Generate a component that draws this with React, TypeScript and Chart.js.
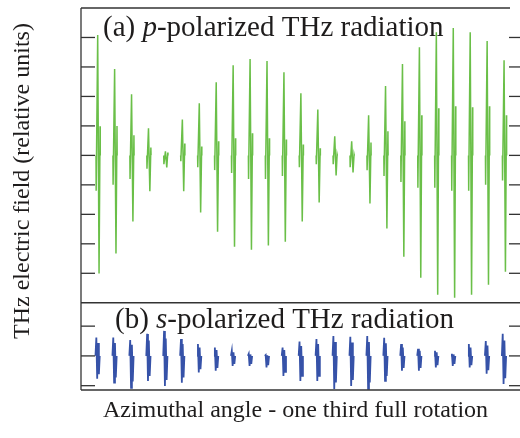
import { useEffect, useRef } from "react";
import { Chart, registerables } from "chart.js";

Chart.register(...registerables);

// ---- data ----
const PULSE_POS = [0, 1, 2, 3, 4, 5, 6, 7, 8, 9, 10, 11, 12, 13, 14, 15, 16, 17, 18, 19, 20, 21, 22, 23, 24];

// (a) p-polarized: main positive peak, main negative trough, pre-dip, post ring
const P_PEAK = [4.08, 2.93, 2.07, 0.92, 0.14, 1.22, 1.77, 2.48, 3.06, 3.27, 3.2, 2.82, 2.11, 1.56, 0.65, 0.48, 1.36, 2.35, 3.1, 3.67, 4.18, 4.32, 4.18, 3.88, 3.23];
const P_TROUGH = [-4.01, -3.33, -2.24, -1.22, -0.41, -1.22, -1.94, -2.59, -3.1, -3.2, -3.06, -2.93, -2.24, -1.6, -0.68, -0.58, -1.63, -2.48, -3.44, -4.15, -4.73, -4.83, -4.73, -4.39, -3.95];
const P_PRE = [-1.2, -1.0, -0.8, -0.45, -0.3, -0.2, -0.4, -0.5, -0.6, -0.8, -0.8, -0.7, -0.4, -0.3, -0.3, -0.4, -0.5, -0.7, -0.9, -1.1, -1.1, -1.2, -1.2, -1.0, -0.85];
const P_RING = [0.99, 1.0, 0.68, 0.27, 0.1, 0.4, 0.3, 0.48, 0.58, 0.75, 0.58, 0.54, 0.37, 0.24, 0.03, 0.03, 0.44, 0.82, 1.16, 1.36, 1.6, 1.67, 1.63, 1.67, 1.36];

// (b) s-polarized: top and bottom excursion of each pulse
const S_TOP = [0.62, 0.62, 0.53, 0.74, 0.84, 0.57, 0.4, 0.28, 0.17, 0.07, 0.03, 0.28, 0.48, 0.57, 0.67, 0.64, 0.67, 0.61, 0.4, 0.24, 0.17, 0.07, 0.4, 0.5, 0.74];
const S_BOT = [-0.77, -0.9, -1.07, -0.84, -1.01, -0.9, -0.56, -0.5, -0.34, -0.34, -0.39, -0.67, -0.84, -0.84, -1.11, -1.01, -1.11, -0.84, -0.5, -0.5, -0.39, -0.34, -0.39, -0.6, -0.94];

const P_TICKS = [-4, -3, -2, -1, 0, 1, 2, 3, 4];
const S_TICKS = [-1, 0, 1];

const X_TITLE = "Azimuthal angle - one third full rotation";
const Y_TITLE = "THz electric field (relative units)";
const P_LABEL = ["(a) ", "p", "-polarized THz radiation"];
const S_LABEL = ["(b) ", "s", "-polarized THz radiation"];

// ---- styling ----
const GREEN = "#6abf48";
const BLUE = "#3652a8";
const INK = "#1e1c1c";
const FRAME = "#333";
const SERIF = "'Liberation Serif', 'DejaVu Serif', serif";

// pulse shape offsets (fraction of pulse spacing)
const P_DX = [-0.1, -0.09, 0, 0.08, 0.14, 0.15];
const S_DX = [-0.13, -0.08, -0.03, 0.02, 0.07, 0.12];

function buildP() {
  const pts: { x: number; y: number | null }[] = [];
  PULSE_POS.forEach((c, k) => {
    const ys = [0, P_PRE[k], P_PEAK[k], P_TROUGH[k], P_RING[k], 0];
    ys.forEach((y, i) => pts.push({ x: c + P_DX[i], y }));
    pts.push({ x: c + 0.5, y: null });
  });
  return pts;
}

function buildS() {
  const pts: { x: number; y: number | null }[] = [];
  PULSE_POS.forEach((c, k) => {
    const ys = [0, S_TOP[k], S_BOT[k], S_TOP[k] * 0.7, S_BOT[k] * 0.8, 0];
    ys.forEach((y, i) => pts.push({ x: c + S_DX[i], y }));
    pts.push({ x: c + 0.5, y: null });
  });
  return pts;
}

function drawLabel(ctx: CanvasRenderingContext2D, parts: string[], x: number, y: number, size: number) {
  let cx = x;
  parts.forEach((t, i) => {
    ctx.font = `${i === 1 ? "italic " : ""}${size}px ${SERIF}`;
    ctx.fillText(t, cx, y);
    cx += ctx.measureText(t).width;
  });
}

const framePlugin = {
  id: "framePlugin",
  afterDraw(chart: any) {
    const { ctx, chartArea: a, scales } = chart;
    const yP = scales.yP;
    const yS = scales.yS;
    const W = chart.width;
    ctx.save();
    ctx.strokeStyle = FRAME;
    ctx.lineWidth = 1.3;
    const ln = (x1: number, y1: number, x2: number, y2: number) => {
      ctx.beginPath();
      ctx.moveTo(x1, y1);
      ctx.lineTo(x2, y2);
      ctx.stroke();
    };
    ln(a.left, a.top, a.left, a.bottom);
    ln(a.left, a.top, a.right, a.top);
    ln(a.left, yP.bottom, W, yP.bottom);
    ln(a.left, a.bottom, W, a.bottom);
    [yP, yS].forEach((s: any) => {
      s.ticks.forEach((t: any) => {
        const y = s.getPixelForValue(t.value);
        ln(a.left, y, a.left + 14, y);
        ln(a.right - 1, y, W, y);
      });
    });
    ctx.fillStyle = INK;
    ctx.textBaseline = "alphabetic";
    ctx.textAlign = "left";
    drawLabel(ctx, P_LABEL, a.left + 22, yP.top + 28, 29);
    drawLabel(ctx, S_LABEL, a.left + 34, yS.top + 25, 29);
    ctx.save();
    ctx.translate(29, 181);
    ctx.rotate(-Math.PI / 2);
    ctx.textAlign = "center";
    ctx.font = `24px ${SERIF}`;
    ctx.fillText(Y_TITLE, 0, 0);
    ctx.restore();
    ctx.restore();
  },
};

export default function App() {
  const ref = useRef<HTMLCanvasElement | null>(null);
  useEffect(() => {
    if (!ref.current) return;
    const hidden = { display: false, drawTicks: false };
    const chart = new Chart(ref.current, {
      type: "line",
      data: {
        datasets: [
          {
            label: "p-polarized",
            data: buildP(),
            xAxisID: "x",
            yAxisID: "yP",
            borderColor: GREEN,
            borderWidth: 1.5,
            pointRadius: 0,
            spanGaps: false,
            tension: 0,
          },
          {
            label: "s-polarized",
            data: buildS(),
            xAxisID: "x",
            yAxisID: "yS",
            borderColor: BLUE,
            borderWidth: 1.8,
            pointRadius: 0,
            spanGaps: false,
            tension: 0,
          },
        ],
      },
      options: {
        animation: false,
        responsive: true,
        maintainAspectRatio: false,
        layout: { padding: { left: 81, top: 8, right: 10, bottom: 15 } },
        plugins: { legend: { display: false }, tooltip: { enabled: false } },
        scales: {
          x: {
            type: "linear",
            min: -0.986,
            max: 24.35,
            ticks: { display: false },
            grid: hidden,
            border: { display: false },
            title: {
              display: true,
              text: X_TITLE,
              color: INK,
              font: { family: SERIF, size: 24, lineHeight: 1 },
              padding: { top: 9, bottom: 0 },
            },
          },
          yP: {
            type: "linear",
            position: "left",
            stack: "panels",
            stackWeight: 294,
            weight: 2,
            min: -5,
            max: 5,
            afterBuildTicks: (s: any) => {
              s.ticks = P_TICKS.map((v) => ({ value: v }));
            },
            ticks: { display: false },
            grid: hidden,
            border: { display: false },
          },
          yS: {
            type: "linear",
            position: "left",
            stack: "panels",
            stackWeight: 87,
            weight: 1,
            min: -1.145,
            max: 1.785,
            afterBuildTicks: (s: any) => {
              s.ticks = S_TICKS.map((v) => ({ value: v }));
            },
            ticks: { display: false },
            grid: hidden,
            border: { display: false },
          },
        } as any,
      },
      plugins: [framePlugin],
    });
    return () => chart.destroy();
  }, []);
  return (
    <div style={{ position: "fixed", left: 0, top: 0, width: 520, height: 438, background: "#fff" }}>
      <canvas ref={ref} />
    </div>
  );
}
